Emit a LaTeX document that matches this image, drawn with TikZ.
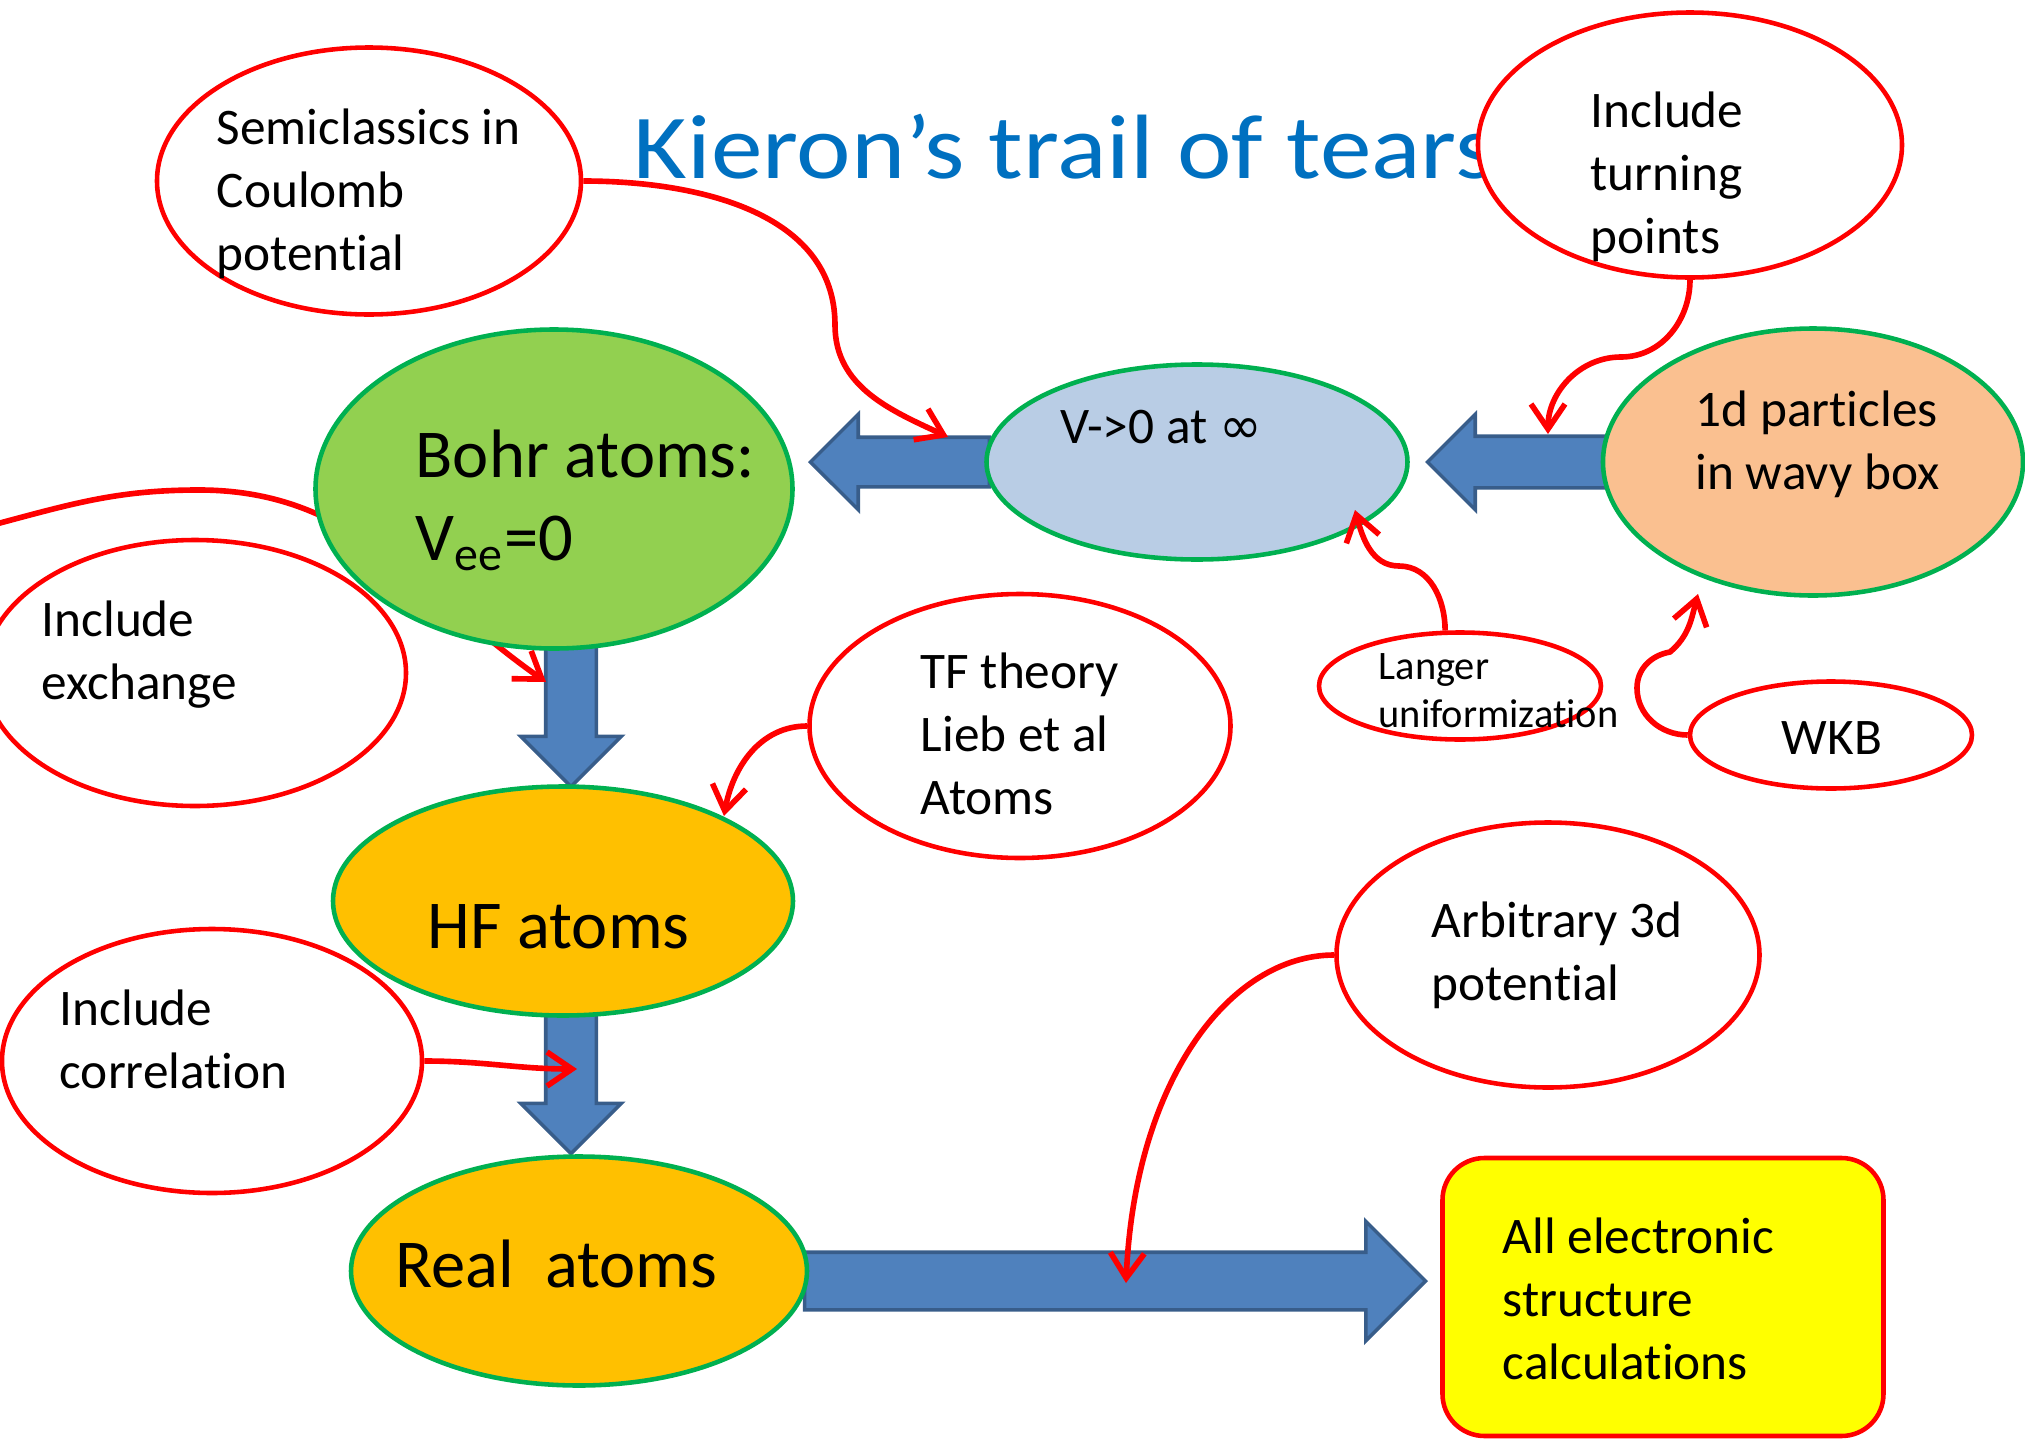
\documentclass[tikz,border=0pt]{standalone}
\usepackage{fontspec}
\setmainfont{Carlito}[Ligatures=NoCommon]
\newfontfamily\inffont{DejaVu Sans}
\usetikzlibrary{arrows.meta,shapes.geometric,shapes.arrows}

\definecolor{titleblue}{RGB}{0,112,192}
\definecolor{ovalred}{RGB}{255,0,0}
\definecolor{ovalgreen}{RGB}{0,176,80}
\definecolor{bohrgreen}{RGB}{146,208,80}
\definecolor{vinfblue}{RGB}{185,205,229}
\definecolor{onedorange}{RGB}{250,192,144}
\definecolor{atomgold}{RGB}{255,192,0}
\definecolor{allyellow}{RGB}{255,255,0}
\definecolor{barfill}{RGB}{79,129,189}
\definecolor{baredge}{RGB}{56,93,138}

\tikzset{
  redoval/.style={ellipse, draw=ovalred, line width=1.3pt, fill=white, inner sep=0pt},
  greenoval/.style={ellipse, draw=ovalgreen, line width=1.3pt, inner sep=0pt},
  blockarrow/.style={single arrow, draw=baredge, fill=barfill, line width=1pt, inner sep=0pt,
    text depth=0pt, single arrow tip angle=90, anchor=tip},
  txt/.style={align=left, inner sep=0pt, anchor=base west, font=\fontsize{14.6}{17.9}\selectfont},
  bigtxt/.style={txt, font=\fontsize{19.5}{23.6}\selectfont},
  smalltxt/.style={txt, font=\fontsize{11.5}{13.6}\selectfont},
  link/.style={draw=ovalred, line width=1.6pt, -{Straight Barb[length=2.5mm,width=3.4mm]}},
}

\begin{document}
\begin{tikzpicture}
	\useasboundingbox (0,0) rectangle (20.25,-14.4);

	% Block arrows
	\node[blockarrow, rotate=180, text height=0.46cm, single arrow head extend=0.23cm, minimum height=1.79cm] (vinfarrow) at (8.08,-4.62) {};
	\node[blockarrow, rotate=180, text height=0.48cm, single arrow head extend=0.22cm, minimum height=1.80cm] (onedarrow) at (14.25,-4.62) {};
	\node[blockarrow, rotate=-90, text height=0.47cm, single arrow head extend=0.25cm, minimum height=1.43cm] (bohrarrow) at (5.71,-7.89) {};
	\node[blockarrow, rotate=-90, text height=0.47cm, single arrow head extend=0.25cm, minimum height=1.42cm] (hfarrow) at (5.71,-11.56) {};
	\node[blockarrow, text height=0.54cm, single arrow head extend=0.31cm, minimum height=6.21cm] (realarrow) at (14.28,-12.81) {};

	% Title
	\node[anchor=base west, inner sep=0pt, text=titleblue, font=\fontsize{26}{31}\selectfont] (title) at (6.33,-1.78) {\scalebox{1.13}[1]{Kieron’s trail of tears}};

	% Ovals
	\node[redoval, minimum width=4.24cm, minimum height=2.67cm] (semi) at (3.69,-1.81) {};
	\node[redoval, minimum width=4.24cm, minimum height=2.65cm] (turn) at (16.90,-1.45) {};
	\node[redoval, minimum width=4.22cm, minimum height=2.66cm] (exch) at (1.95,-6.73) {};

	% exchange runs behind Bohr
	\coordinate (exchend) at (5.46,-6.82);
	\draw[link] (exch.west) .. controls (-1.2,-6.0) and (-0.7,-5.4) .. (0,-5.23)
		to[out=15,in=180] (1.99,-4.90) to[out=0,in=145] (exchend);

	\node[greenoval, fill=bohrgreen, minimum width=4.77cm, minimum height=3.19cm] (bohr) at (5.54,-4.89) {};
	\node[greenoval, fill=vinfblue, minimum width=4.21cm, minimum height=1.95cm] (vinf) at (11.97,-4.62) {};
	\node[greenoval, fill=onedorange, minimum width=4.20cm, minimum height=2.67cm] (oned) at (18.13,-4.62) {};
	\node[redoval, minimum width=2.82cm, minimum height=1.07cm] (langer) at (14.60,-6.86) {};
	\node[redoval, minimum width=2.82cm, minimum height=1.07cm] (wkb) at (18.31,-7.35) {};
	\node[redoval, minimum width=4.21cm, minimum height=2.64cm] (tf) at (10.20,-7.26) {};
	\node[greenoval, fill=atomgold, minimum width=4.60cm, minimum height=2.29cm] (hf) at (5.63,-9.01) {};
	\node[redoval, minimum width=4.20cm, minimum height=2.64cm] (corr) at (2.12,-10.61) {};
	\node[greenoval, fill=atomgold, minimum width=4.56cm, minimum height=2.29cm] (real) at (5.79,-12.71) {};
	\node[redoval, minimum width=4.23cm, minimum height=2.65cm] (arb) at (15.48,-9.55) {};
	\node[draw=ovalred, line width=1.3pt, fill=allyellow, rounded corners=0.42cm, minimum width=4.41cm, minimum height=2.78cm] (allbox) at (16.63,-12.97) {};

	% Texts (base = last line)
	\node[txt] (semitxt) at (2.16,-2.70) {Semiclassics in\\Coulomb\\potential};
	\node[txt] (turntxt) at (15.90,-2.53) {Include\\turning\\points};
	\node[bigtxt] (bohrtxt) at (4.15,-5.60) {Bohr atoms:\\V\textsubscript{ee}=0};
	\node[txt] (vinftxt) at (10.60,-4.43) {V->0 at {\inffont ∞}};
	\node[txt] (onedtxt) at (16.95,-4.89) {1d particles\\in wavy box};
	\node[smalltxt] (langertxt) at (13.78,-7.27) {Langer\\uniformization};
	\node[txt] (wkbtxt) at (17.81,-7.54) {WKB};
	\node[txt] (tftxt) at (9.20,-8.14) {TF theory\\Lieb et al\\Atoms};
	\node[txt] (exchtxt) at (0.41,-6.99) {Include\\exchange};
	\node[bigtxt] (hftxt) at (4.27,-9.48) {HF atoms};
	\node[txt] (corrtxt) at (0.59,-10.88) {Include\\correlation};
	\node[bigtxt] (realtxt) at (3.95,-12.87) {Real\ \ atoms};
	\node[txt] (arbtxt) at (14.31,-10.00) {Arbitrary 3d\\potential};
	\node[txt] (alltxt) at (15.02,-13.79) {All electronic\\structure\\calculations};

	% Red links
	\coordinate (semiend) at (9.48,-4.37);
	\coordinate (turnend) at (15.48,-4.34);
	\coordinate (langerend) at (13.55,-5.10);
	\coordinate (wkbend) at (16.98,-5.94);
	\coordinate (tfend) at (7.24,-8.16);
	\coordinate (corrend) at (5.77,-10.69);
	\coordinate (arbend) at (11.26,-12.83);
	\draw[link] (semi.east) to[out=0,in=90] (8.35,-3.25) to[out=-90,in=155] (semiend);
	\draw[link] (turn.south) to[out=-90,in=0] (16.21,-3.57) to[out=180,in=90] (turnend);
	\draw[link] (langer.105) to[out=90,in=0] (13.99,-5.66) to[out=180,in=-75] (langerend);
	\draw[link] (wkb.west) to[out=180,in=-90] (16.37,-6.88) to[out=90,in=190] (16.70,-6.52) to[out=40,in=-105] (wkbend);
	\draw[link] (tf.west) to[out=180,in=80] (tfend);
	\draw[link] (corr.east) to[out=0,in=180] (corrend);
	\draw[link] (arb.west) .. controls (12.30,-9.55) and (11.35,-10.80) .. (arbend);
\end{tikzpicture}
\end{document}
